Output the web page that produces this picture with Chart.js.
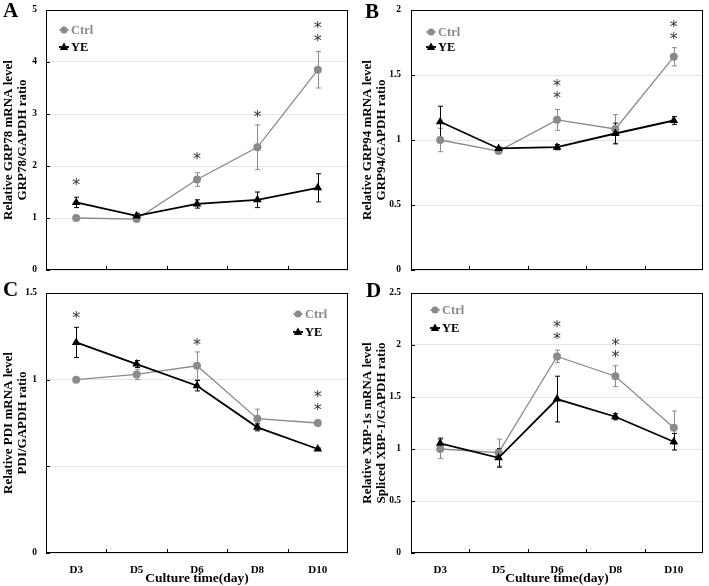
<!DOCTYPE html>
<html>
<head>
<meta charset="utf-8">
<title>ER stress marker expression</title>
<script src="https://cdn.jsdelivr.net/npm/chart.js"></script>
<style>
  body { margin: 0; background: #fff; }
  #wrap { position: relative; width: 709px; height: 586px; overflow: hidden; }
  canvas { position: absolute; }
  .tag { position: absolute; font: bold 21px "Liberation Serif", serif; line-height: 1; color: #000; }
</style>
</head>
<body>
<div id="wrap">
  <canvas id="cA" width="355" height="285" style="left:0;top:0;width:355px;height:285px"></canvas>
  <canvas id="cB" width="354" height="285" style="left:355px;top:0;width:354px;height:285px"></canvas>
  <canvas id="cC" width="355" height="301" style="left:0;top:285px;width:355px;height:301px"></canvas>
  <canvas id="cD" width="354" height="301" style="left:355px;top:285px;width:354px;height:301px"></canvas>
  <div class="tag" style="left:3px;top:0">A</div>
  <div class="tag" style="left:365px;top:1px">B</div>
  <div class="tag" style="left:3px;top:279px">C</div>
  <div class="tag" style="left:366px;top:280px">D</div>
</div>
<script>
// categories
const days = ['D3', 'D5', 'D6', 'D8', 'D10'];

// A - GRP78
const grp78Ctrl = [1.00, 0.98, 1.74, 2.36, 3.85];
const grp78CtrlErr = [0.01, 0.02, 0.13, 0.43, 0.35];
const grp78YE = [1.30, 1.04, 1.27, 1.35, 1.58];
const grp78YEErr = [0.10, 0.05, 0.08, 0.15, 0.27];
const grp78Stars = [[1.70], [], [2.19], [3.00], [4.72, 4.47]];

// B - GRP94
const grp94Ctrl = [1.00, 0.915, 1.155, 1.085, 1.64];
const grp94CtrlErr = [0.09, 0.01, 0.08, 0.11, 0.07];
const grp94YE = [1.14, 0.935, 0.945, 1.05, 1.15];
const grp94YEErr = [0.12, 0.01, 0.02, 0.08, 0.03];
const grp94Stars = [[], [], [1.44, 1.35], [], [1.89, 1.80]];

// C - PDI
const pdiCtrl = [1.00, 1.03, 1.08, 0.775, 0.75];
const pdiCtrlErr = [0.00, 0.03, 0.08, 0.055, 0.015];
const pdiYE = [1.215, 1.09, 0.965, 0.725, 0.60];
const pdiYEErr = [0.087, 0.02, 0.03, 0.02, 0.005];
const pdiStars = [[1.375], [], [1.215], [], [0.92, 0.84]];

// D - spliced XBP-1
const xbpCtrl = [1.00, 0.965, 1.89, 1.70, 1.205];
const xbpCtrlErr = [0.09, 0.13, 0.06, 0.10, 0.16];
const xbpYE = [1.055, 0.915, 1.48, 1.31, 1.07];
const xbpYEErr = [0.05, 0.09, 0.22, 0.03, 0.08];
const xbpStars = [[], [], [2.20, 2.09], [2.03, 1.91], []];

Chart.defaults.font.family = '"Liberation Serif", "Times New Roman", serif';
Chart.defaults.color = '#000';

const GRAY = '#8a8a8a';
const serif = '"Liberation Serif", "Times New Roman", serif';

function tri(ctx, x, y, r) {
  ctx.beginPath();
  ctx.moveTo(x, y - r);
  ctx.lineTo(x + r * 0.95, y + r * 0.65);
  ctx.lineTo(x - r * 0.95, y + r * 0.65);
  ctx.closePath();
  ctx.fill();
}

// error bars, frame, inner ticks, y labels, stars and legend
const decor = {
  id: 'decor',
  beforeDatasetsDraw(chart) {
    const p = chart.options.plugins.decor;
    const ctx = chart.ctx, xs = chart.scales.x, ys = chart.scales.y;
    ctx.save();
    ctx.lineWidth = 1;
    chart.data.datasets.forEach((ds, i) => {
      const err = p.errors[i];
      ctx.strokeStyle = ds.borderColor;
      ds.data.forEach((v, j) => {
        const e = err[j];
        if (!e) return;
        const x = Math.round(xs.getPixelForValue(j)) + 0.5;
        const y1 = ys.getPixelForValue(v + e), y2 = ys.getPixelForValue(v - e);
        ctx.beginPath();
        ctx.moveTo(x, y1); ctx.lineTo(x, y2);
        ctx.moveTo(x - 2.5, y1); ctx.lineTo(x + 2.5, y1);
        ctx.moveTo(x - 2.5, y2); ctx.lineTo(x + 2.5, y2);
        ctx.stroke();
      });
    });
    ctx.restore();
  },
  afterDatasetsDraw(chart) {
    const p = chart.options.plugins.decor;
    const ctx = chart.ctx, xs = chart.scales.x, ys = chart.scales.y;
    const a = chart.chartArea;
    ctx.save();
    // frame
    ctx.strokeStyle = '#000';
    ctx.lineWidth = 1;
    ctx.strokeRect(Math.round(a.left) + 0.5, Math.round(a.top) + 0.5,
      Math.round(a.right - a.left) - 1, Math.round(a.bottom - a.top) - 1);
    // inner ticks
    ctx.beginPath();
    for (let j = 0; j < days.length - 1; j++) {
      const x = Math.round((xs.getPixelForValue(j) + xs.getPixelForValue(j + 1)) / 2) + 0.5;
      ctx.moveTo(x, a.bottom); ctx.lineTo(x, a.bottom - 4);
    }
    ys.ticks.forEach(t => {
      const y = Math.round(ys.getPixelForValue(t.value)) + 0.5;
      ctx.moveTo(a.left, y); ctx.lineTo(a.left + 4, y);
    });
    ctx.stroke();
    // y tick labels (drawn here so the library does not reserve room above the frame)
    ctx.fillStyle = '#000';
    ctx.font = 'bold 9.5px ' + serif;
    ctx.textAlign = 'right';
    ctx.textBaseline = 'middle';
    ys.ticks.forEach(t => {
      if (p.hideTicks.includes(t.value)) return;
      ctx.fillText(String(t.value), a.left - p.tickPad, ys.getPixelForValue(t.value));
    });
    // significance stars
    ctx.fillStyle = '#333';
    ctx.font = '16px "DejaVu Sans"';
    ctx.textAlign = 'center';
    ctx.textBaseline = 'alphabetic';
    const m = ctx.measureText('*');
    const shift = (m.actualBoundingBoxAscent - m.actualBoundingBoxDescent) / 2;
    p.stars.forEach((list, j) => {
      list.forEach(v => {
        ctx.fillText('*', xs.getPixelForValue(j), ys.getPixelForValue(v) + shift);
      });
    });
    // legend
    const lx = a.left + p.legend[0], ly = a.top + p.legend[1];
    ctx.textAlign = 'left';
    ctx.textBaseline = 'middle';
    ctx.font = 'bold 12.5px ' + serif;
    ctx.strokeStyle = GRAY; ctx.fillStyle = GRAY; ctx.lineWidth = 1.3;
    ctx.beginPath(); ctx.moveTo(lx - 5, ly); ctx.lineTo(lx + 5, ly); ctx.stroke();
    ctx.beginPath(); ctx.arc(lx, ly, 3.5, 0, Math.PI * 2); ctx.fill();
    ctx.fillText('Ctrl', lx + 7, ly + 1);
    const ly2 = ly + p.legend[2];
    ctx.strokeStyle = '#000'; ctx.fillStyle = '#000'; ctx.lineWidth = 1.8;
    ctx.beginPath(); ctx.moveTo(lx - 5, ly2); ctx.lineTo(lx + 5, ly2); ctx.stroke();
    tri(ctx, lx, ly2, 4.5);
    ctx.fillText('YE', lx + 7, ly2 + 1);
    ctx.restore();
  }
};

function panelConfig(o, pad) {
  return {
    type: 'line',
    data: {
      labels: days,
      datasets: [
        {
          label: 'Ctrl', data: o.ctrl, order: 2,
          borderColor: GRAY, backgroundColor: GRAY, borderWidth: 1.3,
          pointStyle: 'circle', pointRadius: 4, pointBorderWidth: 0,
          pointBackgroundColor: GRAY, tension: 0
        },
        {
          label: 'YE', data: o.ye, order: 1,
          borderColor: '#000', backgroundColor: '#000', borderWidth: 1.8,
          pointStyle: 'triangle', pointRadius: 5, pointBorderWidth: 0,
          pointBackgroundColor: '#000', tension: 0
        }
      ]
    },
    options: {
      responsive: false,
      animation: false,
      devicePixelRatio: 1,
      layout: { padding: pad },
      plugins: {
        legend: { display: false },
        tooltip: { enabled: false },
        decor: {
          errors: [o.ctrlErr, o.yeErr], stars: o.stars, legend: o.legend,
          tickPad: o.tickPad, hideTicks: o.hideTicks || []
        }
      },
      scales: {
        x: {
          offset: true,
          grid: { display: false },
          border: { display: false },
          ticks: { display: o.bottomAxis, padding: 3, font: { size: 11, weight: 'bold' }, color: '#000' },
          title: {
            display: o.bottomAxis, text: 'Culture time(day)',
            font: { size: 13.5, weight: 'bold', lineHeight: 1 }, padding: { top: 0, bottom: 0.5 }, color: '#000'
          },
          afterFit(s) { s.height = o.xh; }
        },
        y: {
          min: 0, max: o.max,
          grid: { color: '#e4e4e4', drawTicks: false, lineWidth: 1 },
          border: { display: false },
          ticks: { stepSize: o.step, display: false },
          title: {
            display: true, text: o.ytitle,
            font: { size: 13, weight: 'bold', lineHeight: 1.05 },
            padding: { top: o.titlePad, bottom: 0 }, color: '#000'
          },
          afterFit(s) { s.width = o.yw; }
        }
      }
    },
    plugins: [decor]
  };
}

function makePanel(id, o) {
  const canvas = document.getElementById(id);
  const w = o.area;
  // first pass to see what extra room the library adds, second pass with padding corrected
  const pad = { top: w.top, right: canvas.width - w.right, left: 0, bottom: canvas.height - w.bottom - o.xh };
  const probe = new Chart(canvas, panelConfig(o, pad));
  const a = probe.chartArea;
  const fixed = {
    top: pad.top + (w.top - a.top),
    bottom: pad.bottom + (a.bottom - w.bottom),
    left: pad.left + (w.left - a.left),
    right: pad.right + (a.right - w.right)
  };
  probe.destroy();
  return new Chart(canvas, panelConfig(o, fixed));
}

makePanel('cA', {
  ctrl: grp78Ctrl, ctrlErr: grp78CtrlErr, ye: grp78YE, yeErr: grp78YEErr, stars: grp78Stars,
  max: 5, step: 1, ytitle: ['Relative GRP78 mRNA level', 'GRP78/GAPDH ratio'],
  area: { left: 46, right: 348, top: 10, bottom: 270 },
  yw: 46, xh: 15, bottomAxis: false, tickPad: 9, titlePad: 2,
  legend: [18, 20, 17]
});
makePanel('cB', {
  ctrl: grp94Ctrl, ctrlErr: grp94CtrlErr, ye: grp94YE, yeErr: grp94YEErr, stars: grp94Stars,
  max: 2, step: 0.5, ytitle: ['Relative GRP94 mRNA level', 'GRP94/GAPDH ratio'],
  area: { left: 56, right: 348, top: 10, bottom: 270 },
  yw: 56, xh: 15, bottomAxis: false, tickPad: 10, titlePad: 6,
  legend: [20, 22, 15]
});
makePanel('cC', {
  ctrl: pdiCtrl, ctrlErr: pdiCtrlErr, ye: pdiYE, yeErr: pdiYEErr, stars: pdiStars,
  max: 1.5, step: 0.5, ytitle: ['Relative PDI mRNA level', 'PDI/GAPDH ratio'],
  area: { left: 46, right: 348, top: 8, bottom: 268 },
  yw: 46, xh: 33, bottomAxis: true, tickPad: 9, titlePad: 2, hideTicks: [0.5],
  legend: [252, 21, 18]
});
makePanel('cD', {
  ctrl: xbpCtrl, ctrlErr: xbpCtrlErr, ye: xbpYE, yeErr: xbpYEErr, stars: xbpStars,
  max: 2.5, step: 0.5, ytitle: ['Relative XBP-1s mRNA level', 'Spliced XBP-1/GAPDH ratio'],
  area: { left: 56, right: 348, top: 8, bottom: 268 },
  yw: 56, xh: 33, bottomAxis: true, tickPad: 10, titlePad: 6,
  legend: [24, 17, 18]
});
</script>
</body>
</html>
